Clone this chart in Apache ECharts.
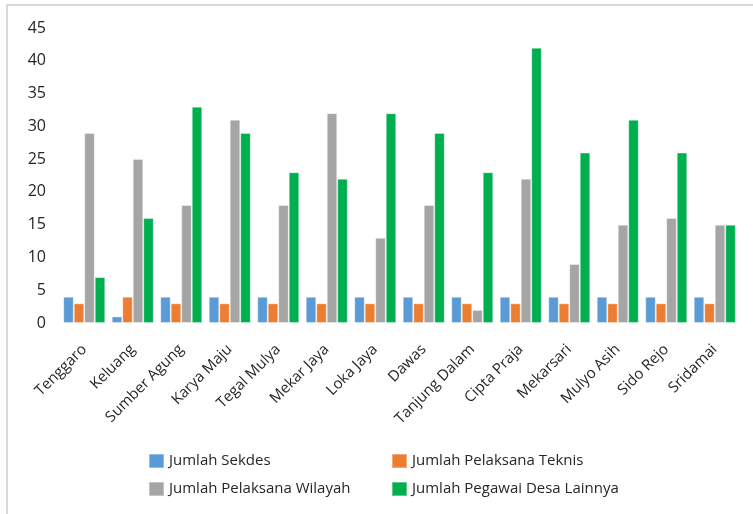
<!DOCTYPE html>
<html>
<head>
<meta charset="utf-8">
<script src="https://cdn.jsdelivr.net/npm/echarts@6/dist/echarts.min.js"></script>
<style>
  html, body { margin: 0; padding: 0; background: #fff; }
  #frame { position: absolute; left: 6px; top: 4px; width: 747px; height: 510px;
           border-left: 2px solid #d9d9d9; border-top: 2px solid #d9d9d9; box-sizing: border-box; }
  #chart { position: absolute; left: 0; top: 0; width: 753px; height: 514px; }
</style>
</head>
<body>
<div id="frame"></div>
<div id="chart"></div>
<script>
const desa = ['Tenggaro', 'Keluang', 'Sumber Agung', 'Karya Maju', 'Tegal Mulya', 'Mekar Jaya',
  'Loka Jaya', 'Dawas', 'Tanjung Dalam', 'Cipta Praja', 'Mekarsari', 'Mulyo Asih', 'Sido Rejo', 'Sridamai']

const sekdes = [4, 1, 4, 4, 4, 4, 4, 4, 4, 4, 4, 4, 4, 4]
const pelaksanaTeknis = [3, 4, 3, 3, 3, 3, 3, 3, 3, 3, 3, 3, 3, 3]
const pelaksanaWilayah = [29, 25, 18, 31, 18, 32, 13, 18, 2, 22, 9, 15, 16, 15]
const pegawaiLainnya = [7, 16, 33, 29, 23, 22, 32, 29, 23, 42, 26, 31, 26, 15]

const font = '"Open Sans", "Noto Sans", sans-serif'
const textColor = '#262626'

function bar (name, data) {
  return {
    name,
    type: 'bar',
    data,
    barGap: 0,
    barWidth: 10.5,
    itemStyle: { borderColor: 'rgba(255,255,255,0.35)', borderWidth: 1 }
  }
}

function legendCol (items, left) {
  return {
    data: items,
    orient: 'vertical', left, top: 448, itemGap: 12,
    itemWidth: 15, itemHeight: 14, icon: 'rect',
    textStyle: { fontFamily: font, fontSize: 15, lineHeight: 14, color: textColor }
  }
}

const myChart = echarts.init(document.getElementById('chart'))
myChart.setOption({
  animation: false,
  color: ['#5B9BD5', '#ED7D31', '#A5A5A5', '#00B050'],
  grid: { left: 60, right: 14, top: 28, bottom: 191 },
  legend: [
    legendCol(['Jumlah Sekdes', 'Jumlah Pelaksana Wilayah'], 143),
    legendCol(['Jumlah Pelaksana Teknis', 'Jumlah Pegawai Desa Lainnya'], 386)
  ],
  xAxis: {
    type: 'category',
    data: desa,
    axisLine: { show: false },
    axisTick: { show: false },
    axisLabel: { rotate: 45, interval: 0, margin: 24, fontFamily: font, fontSize: 15, color: textColor }
  },
  yAxis: {
    type: 'value',
    min: 0, max: 45, interval: 5,
    splitLine: { show: false },
    axisLine: { show: false },
    axisTick: { show: false },
    axisLabel: { margin: 14, fontFamily: font, fontSize: 16, color: textColor }
  },
  series: [
    bar('Jumlah Sekdes', sekdes),
    bar('Jumlah Pelaksana Teknis', pelaksanaTeknis),
    bar('Jumlah Pelaksana Wilayah', pelaksanaWilayah),
    bar('Jumlah Pegawai Desa Lainnya', pegawaiLainnya)
  ]
})
</script>
</body>
</html>
